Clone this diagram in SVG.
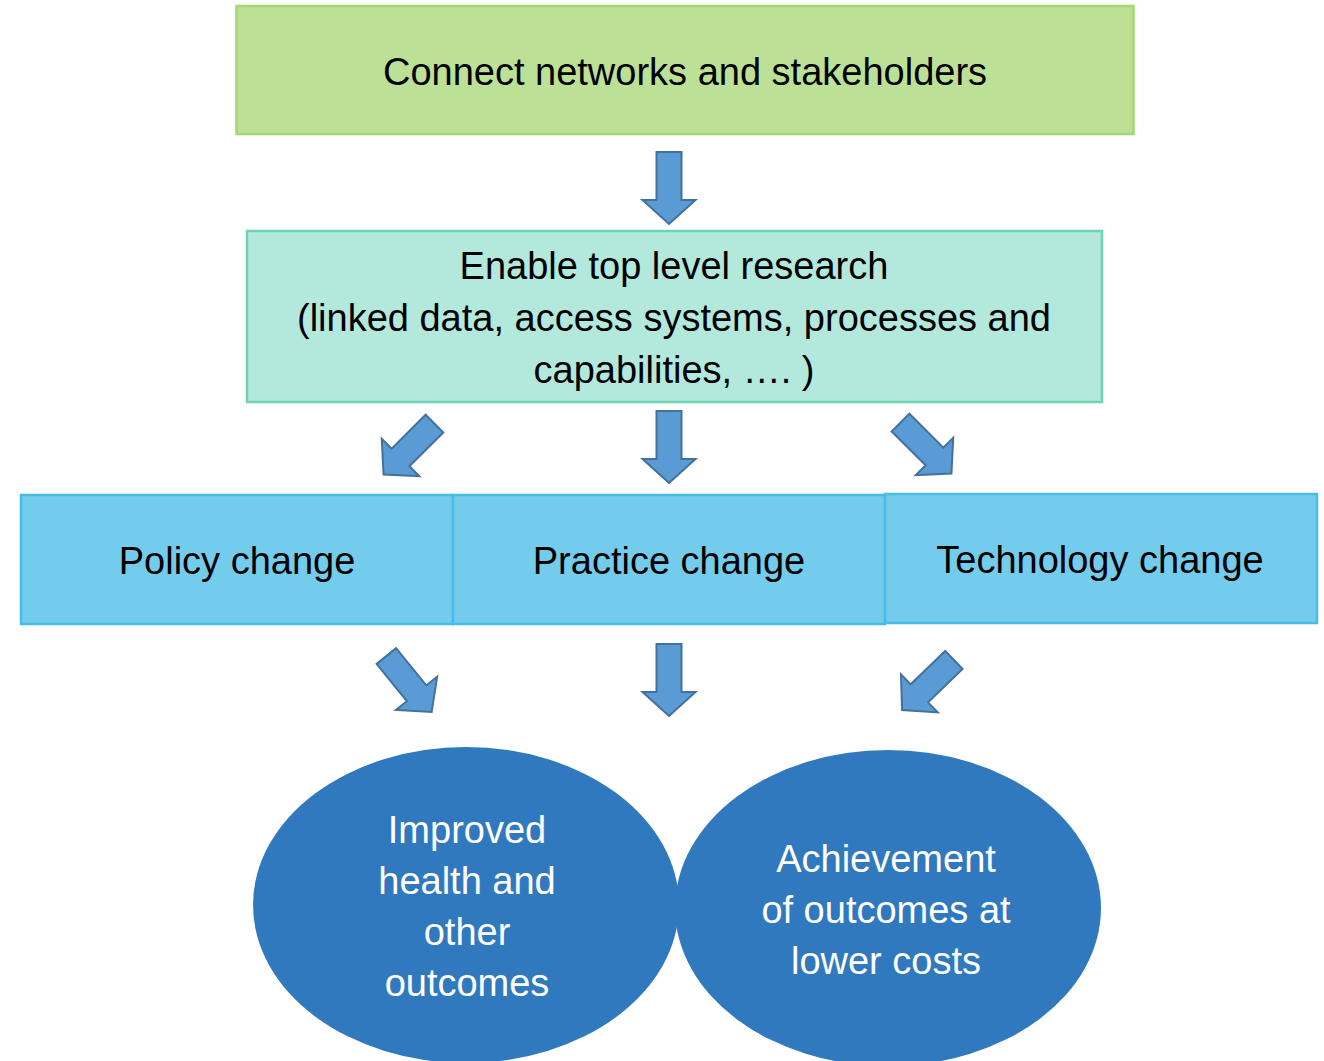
<svg xmlns="http://www.w3.org/2000/svg" width="1324" height="1061" viewBox="0 0 1324 1061">
<style>
  .t{font-family:"Liberation Sans",Arial,sans-serif;font-size:38px;text-anchor:middle;fill:#000}
  .w{fill:#fff}
  .blue{fill:#74cced;stroke:#45bde6;stroke-width:2.5}
  .arr{fill:#5b9bd5;stroke:#41719c;stroke-width:2}
</style>
<defs>
  <path id="a" d="M-12.5,-36 H12.5 V12 H26.5 L0,36 L-26.5,12 H-12.5 Z"/>
</defs>
<rect width="1324" height="1061" fill="#fff"/>
<g id="n1">
  <rect x="236.5" y="6" width="897" height="128" fill="#bde097" stroke="#a3d872" stroke-width="2.5"/>
  <text class="t" x="685" y="85">Connect networks and stakeholders</text>
</g>
<g id="n2">
  <rect x="247" y="231" width="855" height="171" fill="#b3e9dc" stroke="#6dd4b8" stroke-width="2.5"/>
  <text class="t" x="674" y="279">Enable top level research</text>
  <text class="t" x="674" y="331">(linked data, access systems, processes and</text>
  <text class="t" x="674" y="383">capabilities, …. )</text>
</g>
<g id="n3">
  <rect class="blue" x="21" y="495" width="432" height="129"/>
  <text class="t" x="237" y="574">Policy change</text>
</g>
<g id="n4">
  <rect class="blue" x="453" y="495" width="432" height="129"/>
  <text class="t" x="669" y="574">Practice change</text>
</g>
<g id="n5">
  <rect class="blue" x="885" y="494" width="432" height="129"/>
  <text class="t" x="1100" y="573">Technology change</text>
</g>
<g id="n6">
  <ellipse cx="466" cy="905" rx="213" ry="158" fill="#3179be"/>
  <text class="t w" x="467" y="843">Improved</text>
  <text class="t w" x="467" y="894">health and</text>
  <text class="t w" x="467" y="945">other</text>
  <text class="t w" x="467" y="996">outcomes</text>
</g>
<g id="n7">
  <ellipse cx="888" cy="908" rx="213" ry="158" fill="#3179be"/>
  <text class="t w" x="886" y="872">Achievement</text>
  <text class="t w" x="886" y="923">of outcomes at</text>
  <text class="t w" x="886" y="974">lower costs</text>
</g>
<g id="connectors">
  <use href="#a" class="arr" transform="translate(669,188)"/>
  <use href="#a" class="arr" transform="translate(669,447)"/>
  <use href="#a" class="arr" transform="translate(409,449) rotate(45)"/>
  <use href="#a" class="arr" transform="translate(926,448) rotate(-45)"/>
  <use href="#a" class="arr" transform="translate(409,684) rotate(-39)"/>
  <use href="#a" class="arr" transform="translate(669,680)"/>
  <use href="#a" class="arr" transform="translate(928,685) rotate(46)"/>
</g>
</svg>
